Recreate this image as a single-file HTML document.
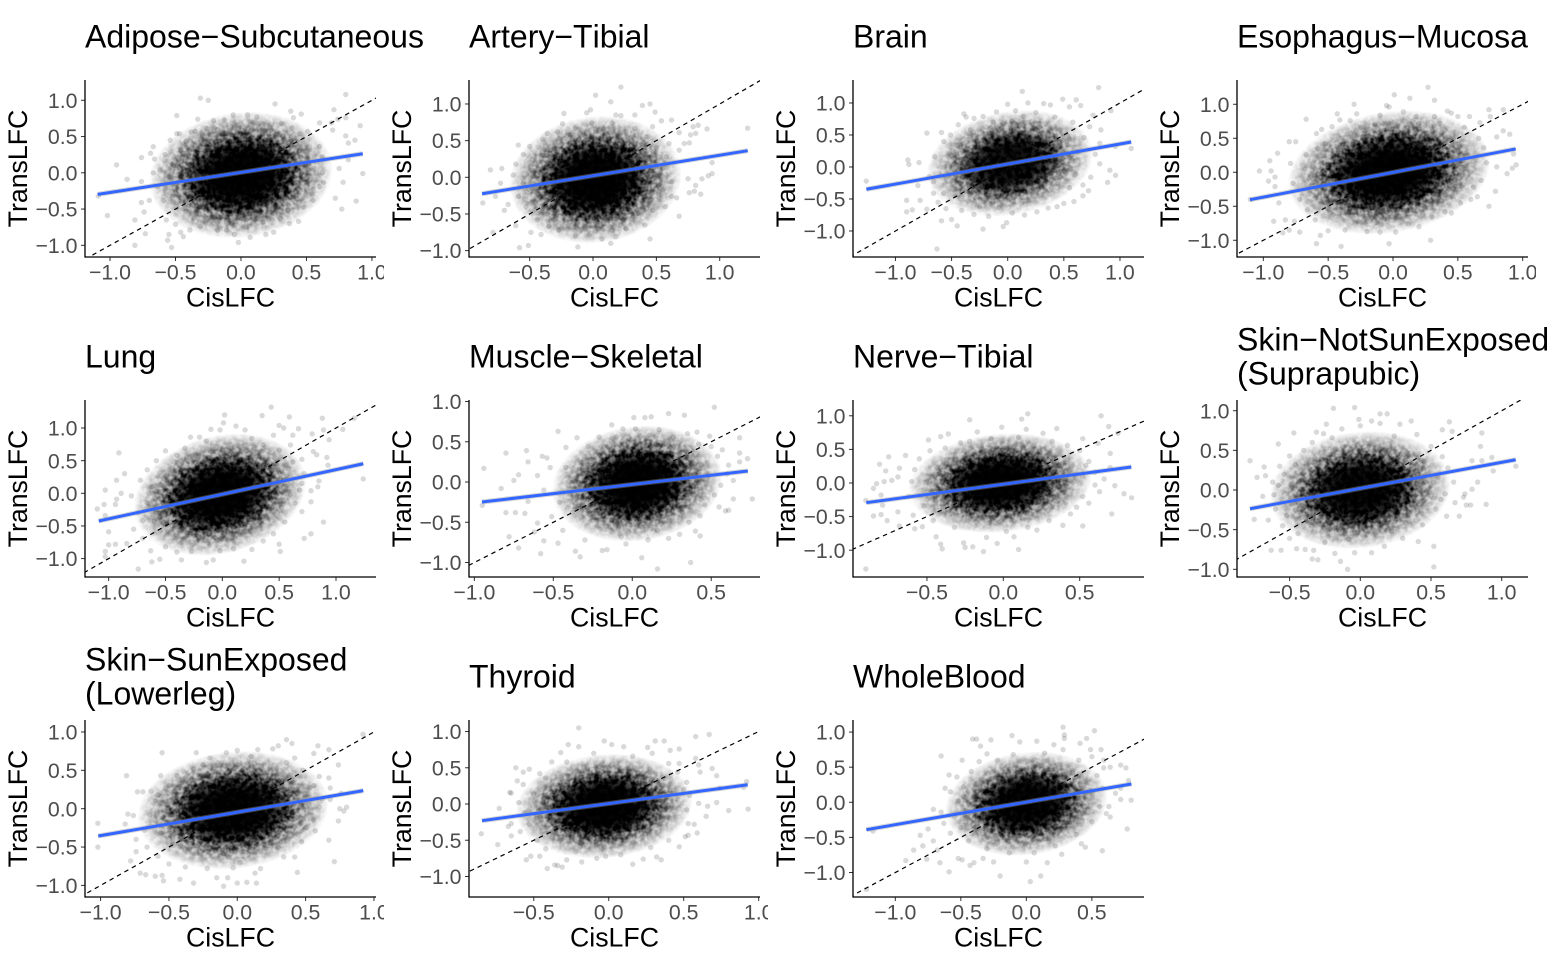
<!DOCTYPE html>
<html lang="en">
<head>
<meta charset="utf-8">
<title>TransLFC versus CisLFC by tissue</title>
<style>
html,body{margin:0;padding:0;background:#fff;}
#figure{display:block;width:1547px;height:960px;font-family:"Liberation Sans",Arial,sans-serif;font-kerning:none;}
</style>
</head>
<body>
<svg id="figure" width="1547" height="960" viewBox="0 0 1547 960">
<defs>
<radialGradient id="density-fill">
<stop offset="0" stop-color="#000" stop-opacity="1"/>
<stop offset=".38" stop-color="#000" stop-opacity=".95"/>
<stop offset=".55" stop-color="#000" stop-opacity=".76"/>
<stop offset=".72" stop-color="#000" stop-opacity=".46"/>
<stop offset=".88" stop-color="#000" stop-opacity=".2"/>
<stop offset="1" stop-color="#000" stop-opacity="0"/>
</radialGradient>
<radialGradient id="density-solid">
<stop offset="0" stop-color="#000" stop-opacity="1"/>
<stop offset=".3" stop-color="#000" stop-opacity=".95"/>
<stop offset=".48" stop-color="#000" stop-opacity=".5"/>
<stop offset=".62" stop-color="#000" stop-opacity="0"/>
</radialGradient>
</defs>
</svg>
<script>
const panelTitles = [["Adipose−Subcutaneous"],["Artery−Tibial"],["Brain"],["Esophagus−Mucosa"],["Lung"],["Muscle−Skeletal"],["Nerve−Tibial"],["Skin−NotSunExposed","(Suprapubic)"],["Skin−SunExposed","(Lowerleg)"],["Thyroid"],["WholeBlood"]];
const xLimits = [[-1.191,1.031],[-.979,1.318],[-1.378,1.214],[-1.203,1.041],[-1.208,1.352],[-1.034,.809],[-.984,.921],[-.872,1.186],[-1.114,1.015],[-.932,1.009],[-1.323,.898]];
const yLimits = [[-1.161,1.28],[-1.087,1.327],[-1.406,1.359],[-1.246,1.357],[-1.282,1.429],[-1.18,1.019],[-1.399,1.235],[-1.097,1.135],[-1.151,1.156],[-1.283,1.159],[-1.349,1.172]];
const xTickValues = [[-1,-.5,0,.5,1],[-.5,0,.5,1],[-1,-.5,0,.5,1],[-1,-.5,0,.5,1],[-1,-.5,0,.5,1],[-1,-.5,0,.5],[-.5,0,.5],[-.5,0,.5,1],[-1,-.5,0,.5,1],[-.5,0,.5,1],[-1,-.5,0,.5]];
const yTickValues = [-1,-.5,0,.5,1];
const fitLines = [[-1.094,-.297,.93,.263],[-.876,-.224,1.221,.363],[-1.259,-.348,1.1,.391],[-1.103,-.403,.946,.343],[-1.087,-.424,1.24,.453],[-.952,-.248,.732,.137],[-.897,-.293,.838,.238],[-.78,-.236,1.099,.382],[-1.017,-.356,.922,.235],[-.845,-.23,.927,.266],[-1.221,-.39,.802,.261]];
const densityCenterX = [0,.02,.02,-.03,-.02,.03,-.02,0,-.03,-.03,0];
const densityCenterY = [-.03,-.03,.06,0,-.02,-.02,0,0,-.02,-.03,-.02];
const densityRadiusX = [.7,.68,.74,.78,.76,.54,.6,.64,.7,.59,.62];
const densityRadiusY = [.87,.87,.82,.9,.92,.72,.74,.74,.77,.72,.74];
const densityShear = [.12,.1,.2,.2,.25,.15,.15,.12,.12,.12,.15];
const densityStrength = [1,1,.88,1,1,1,1,.95,.98,1,.96];

const pointsAdipose = [[-.31,1.03],[-.25,1],[.26,.95],[.8,1.08],[-.49,.79],[-.33,.74],[.38,.85],[.46,.81],[.71,.87],[.8,.76],[.91,.65],[.74,.74],[.69,.69],[.7,.59],[-.95,.11],[-.87,-.09],[-1.09,-.32],[-1.02,-.59],[-.81,-.65],[-.81,-1],[-.73,-.84],[-.74,-.54],[-.76,-.41],[-.76,.21],[-.69,.27],[-.67,.36],[-.66,.19],[-.67,0],[-.76,-.12],[-.7,-.38],[-.56,-.93],[-.53,-1.03],[-.44,-.88],[-.46,-.82],[-.39,-.79],[-.02,-.96],[-.05,-.85],[.19,-.85],[.25,-.82],[.07,-.89],[.77,-.5],[.88,-.39],[.93,-.01],[.78,-.13],[.72,-.35],[.75,.06],[.82,.41],[.87,.45],[.8,.51],[.82,.18],[.63,-.13],[.62,0],[.62,.22],[.6,.36],[.6,.69],[.51,.57],[.4,.76],[.39,.62],[.31,.68],[.12,.77],[.05,.8],[-.06,.8],[-.21,.72],[-.49,.54],[-.47,.54],[-.38,.56],[-.35,.57],[-.54,.45],[-.58,.25],[-.62,.04],[-.64,-.19],[-.59,-.38],[-.57,-.65],[-.55,-.85],[-.5,-.71],[-.31,-.74],[-.18,-.79],[-.11,-.79],[.04,-.75],[.17,-.68],[.3,-.63],[.37,-.7],[.44,-.67],[.48,-.47],[.55,-.38],[.54,-.29],[.6,-.19],[.45,.54],[.32,.5],[-.26,.61],[-.13,.73],[.09,.7],[.22,.63],[-.52,.12],[-.55,-.06],[-.5,-.28],[-.46,.31],[-.42,.43],[-.44,-.5],[-.36,-.62],[.47,.3],[.52,.12],[.5,-.12],[.43,-.36],[.36,-.52],[.16,.59],[-.18,.6],[-.03,.66],[-.27,-.66],[-.07,-.7],[.12,-.64]];
const pointsArtery = [[.22,1.23],[.02,1.12],[.14,1.03],[.45,1],[.39,.98],[.49,.89],[-.05,.88],[-.02,.92],[-.23,.87],[.18,.85],[.22,.84],[.33,.85],[1.22,.67],[.9,.66],[.83,.71],[.79,.69],[.81,.6],[.77,.58],[.76,.47],[.94,.2],[.94,.05],[.91,.02],[.86,-.02],[.81,-.11],[.85,-.23],[.76,-.21],[.8,-.19],[.75,-.02],[.68,-.53],[.57,-.4],[.66,-.28],[.62,-.26],[.41,-.65],[.45,-.84],[.14,-.9],[.18,-.81],[.07,-.84],[-.12,-.95],[-.14,-.8],[-.03,-.79],[-.51,-.93],[-.58,-.96],[-.79,-.75],[-.49,-.75],[-.41,-.78],[-.61,-.66],[-.7,-.45],[-.87,-.35],[-.77,-.26],[-.67,-.37],[-.81,.1],[-.72,.12],[-.73,-.08],[-.63,.03],[-.61,.18],[-.55,.31],[-.59,.44],[-.5,.42],[-.4,.52],[-.36,.6],[-.28,.62],[-.24,.73],[-.14,.67],[-.01,.74],[.15,.74],[.33,.67],[.47,.69],[.62,.78],[.54,.77],[.68,.61],[.6,.46],[.72,.46],[.68,.37],[.62,-.06],[.55,-.17],[.47,-.45],[.36,-.49],[.26,-.7],[.15,-.72],[-.06,-.67],[-.27,-.72],[-.35,-.67],[-.44,-.58],[-.53,-.4],[-.59,-.26],[-.55,-.08],[-.48,.24],[-.46,.09],[-.51,-.16],[-.42,-.46],[-.31,-.58],[.55,.12],[.58,.28],[.5,.4],[.42,.55],[.26,.62],[.08,.66],[-.18,.58],[-.38,.38],[.52,-.1],[.45,-.32],[.24,-.58],[.02,-.63]];
const pointsBrain = [[-1.26,-.22],[-.89,.11],[-.88,.04],[-.79,.07],[-.72,.53],[-.9,-.52],[-.9,-.7],[-.85,-.67],[-.78,-.52],[-.8,-.29],[-.72,-.66],[-.63,-1.28],[-.59,-.84],[-.5,-.82],[-.45,-.92],[-.22,-.97],[-.04,-.93],[-.01,-.87],[.13,1.18],[0,.98],[.18,1],[.81,1.24],[.49,1.06],[.61,1.05],[.92,.88],[.65,.96],[.55,.94],[.38,.97],[.32,.99],[.76,.81],[1.1,.29],[.96,.32],[.89,-.24],[.96,-.13],[.91,-.05],[.72,-.37],[.67,-.45],[.59,-.54],[.5,-.57],[.44,-.62],[.26,-.7],[.04,-.72],[-.59,.54],[-.51,.5],[-.44,.66],[-.39,.83],[-.37,.78],[-.3,.76],[-.22,.79],[-.1,.86],[.07,.88],[.83,.58],[.73,.63],[.82,.37],[-.65,.16],[-.57,.4],[-.66,-.23],[-.57,-.41],[-.66,-.41],[-.7,-.15],[-.62,-.55],[-.55,-.65],[-.41,-.68],[-.3,-.74],[-.17,-.77],[.15,-.75],[.36,-.64],[.14,.79],[.25,.85],[.42,.78],[.58,.7],[.68,.46],[.78,.2],[.82,.05],[.74,-.16],[.67,-.28],[-.5,.18],[-.45,.34],[-.33,.58],[-.52,-.12],[-.46,-.34],[.55,.44],[.62,.24],[.6,-.12],[.55,-.32],[-.13,.7],[.04,.72],[.28,.68],[-.25,-.62],[-.08,-.63]];
const pointsEsophagus = [[.27,1.25],[.01,1.14],[.13,1.09],[.32,1.06],[-.05,.98],[-.03,.96],[-.3,1],[-.67,.78],[-.43,.86],[-.41,.77],[-.28,.86],[-.33,.76],[-.1,.84],[.08,.89],[.18,.82],[.32,.82],[.42,.9],[.45,.87],[.5,.82],[.74,.92],[.85,.92],[.75,.82],[.59,.82],[.67,.73],[.85,.61],[.9,.56],[.8,.52],[.93,.27],[.95,.11],[.92,.06],[.88,-.02],[.8,.08],[.79,-.28],[.74,-.5],[.65,-.36],[.6,-.4],[.45,-.6],[.4,-.58],[.3,-.66],[.29,-1],[.2,-.8],[.02,-.88],[-.03,-1.05],[-.1,-.88],[-.2,-.87],[-.4,-1.09],[-.59,-1.05],[-.56,-.93],[-.5,-.86],[-.37,-.85],[-.72,-.88],[-.85,-.89],[-.8,-.85],[-.92,-.72],[-.83,-.7],[-.76,-.72],[-.88,-.45],[-.96,-.13],[-1.03,.02],[-.94,.02],[-.95,.17],[-.89,.28],[-.91,-.07],[-.8,.45],[-.75,.45],[-.79,.13],[-.77,-.16],[-1.1,-.4],[-.91,-.21],[-.67,.26],[-.59,.57],[-.55,.63],[-.47,.67],[-.72,-.4],[-.66,-.55],[-.6,-.7],[-.68,.05],[-.62,-.1],[-.58,.35],[-.52,.42],[.66,.5],[.7,.36],[.72,.14],[.68,-.12],[.62,-.22],[.55,.66],[.36,.72],[.2,.72],[-.14,.7],[-.25,.66],[.12,-.76],[-.13,-.74],[-.27,-.72],[-.46,-.62],[.52,-.45]];
const pointsLung = [[1.24,.22],[.43,1.32],[.02,1.2],[.01,1.08],[.35,1.19],[.59,1.17],[.88,1.15],[1.16,1.15],[.5,1.04],[.54,1],[.67,.99],[.89,.97],[1.06,.98],[.79,.91],[.94,.82],[.83,.59],[.92,.55],[.93,.43],[.85,.19],[.84,.1],[.78,.04],[.78,-.13],[.89,-.44],[.78,-.62],[.72,-.69],[.51,-.89],[.5,-.78],[.45,-.62],[.55,-.44],[.7,-.28],[.19,-1.04],[-.14,-1.06],[-.08,-1.02],[-.36,-1.02],[-.74,-1.16],[-.62,-1.05],[-.55,-1.01],[-1.03,-.97],[-1.03,-.89],[-.94,-.78],[-1,-.79],[-1,-.59],[-1.1,-.24],[-1.04,-.17],[-1.03,-.34],[-.94,-.17],[-1.03,.05],[-.91,.62],[-.93,.2],[-.86,.3],[-.89,0],[-.93,-.09],[-.8,-.04],[-.72,.2],[-.66,.36],[-.5,.65],[-.33,.69],[-.28,.86],[-.2,.86],[-.1,.98],[-.02,.97],[.12,1.03],[.2,.97],[.26,.84],[.45,.89],[.62,.89],[.6,.74],[.8,.64],[.62,.48],[.7,.15],[-.84,-.77],[-.78,-.55],[-.7,-.69],[-.74,-.3],[-.63,-.88],[-.5,-.82],[-.4,-.9],[-.27,-.89],[-.02,-.88],[.1,-.85],[.26,-.86],[.36,-.73],[.64,-.15],[.68,.05],[.72,.3],[.7,.52],[.5,.66],[.36,.74],[-.14,.8],[-.4,.58],[-.58,.5],[-.62,.1],[-.66,-.15],[-.6,-.42],[-.7,-.42],[.54,.2],[.58,.38],[.6,-.02],[.52,-.22]];
const pointsMuscle = [[.52,.93],[.23,.85],[.33,.83],[.01,.8],[.08,.8],[.12,.81],[-.13,.71],[-.06,.66],[.02,.66],[.17,.65],[-.47,.63],[-.94,.17],[-.8,.36],[-.67,.39],[-.83,-.08],[-.95,-.29],[-.8,-.38],[-.78,-.68],[-.72,-.82],[-.58,-.89],[-.33,-.93],[-.36,-.86],[-.47,-.76],[-.56,-.73],[.16,-1.08],[.06,-.94],[.37,-1],[.43,-.67],[.4,-.61],[.3,-.65],[.36,-.5],[.43,-.42],[.59,-.36],[.61,-.35],[.55,-.31],[.64,-.21],[.76,-.21],[.68,.36],[.73,.29],[.68,.55],[.68,.25],[.61,.21],[.49,.57],[.41,.62],[.35,.6],[-.16,-.84],[-.19,-.85],[-.04,-.77],[.1,-.72],[.23,-.7],[-.21,.56],[-.35,.55],[-.42,.43],[-.54,.3],[-.57,.32],[-.66,.25],[-.72,.09],[-.75,.02],[-.66,-.24],[-.74,-.38],[-.68,-.39],[-.6,-.51],[-.51,-.43],[-.6,.08],[-.56,-.1],[-.52,.18],[-.46,-.25],[-.62,-.62],[-.44,-.6],[-.3,-.72],[-.07,-.68],[.16,-.6],[.32,-.38],[.46,-.28],[.52,-.16],[.56,-.04],[.6,.1],[.54,.32],[.5,.44],[.42,.47],[.26,.56],[.11,.58],[-.1,.56],[-.28,.44],[.48,.08],[.44,.22],[-.42,.18],[-.38,-.38],[.64,.02],[.57,.4]];
const pointsNerve = [[-.9,-1.28],[-.9,-.26],[-.85,-.49],[-.8,-.47],[-.76,-.56],[-.79,-.33],[-.8,-.18],[-.85,-.08],[-.83,-.01],[-.78,.02],[-.77,.18],[-.81,.28],[-.75,.39],[-.64,.41],[-.68,.22],[-.69,.09],[-.73,.04],[-.49,.64],[-.41,.69],[-.36,.73],[-.28,.6],[-.22,.94],[-.17,.76],[-.01,.83],[.12,.95],[.16,1.03],[.15,.8],[.64,1],[.69,.84],[.75,.74],[.35,.81],[.26,.74],[.52,.66],[.62,.59],[.84,-.22],[.79,-.16],[.73,-.04],[.71,-.46],[.52,-.64],[.39,-.63],[.22,-.7],[.1,-.99],[.07,-.8],[-.04,-.9],[-.13,-1.02],[-.2,-.95],[-.25,-.96],[-.26,-.89],[-.4,-.98],[-.41,-.91],[-.44,-.8],[-.58,-.68],[-.53,-.65],[-.68,-.64],[-.69,-.43],[-.59,-.48],[-.11,-.81],[.63,-.13],[.6,-.03],[.7,.23],[.7,.44],[-.62,-.2],[-.6,.02],[-.58,.2],[-.55,.36],[-.48,.48],[-.38,.52],[-.52,-.34],[-.46,-.56],[-.32,-.66],[.02,-.72],[.16,-.66],[.3,-.56],[.44,-.46],[.56,-.3],[.6,.16],[.56,.32],[.5,.48],[.42,.56],[.32,.62],[.1,.68],[-.08,.66],[-.22,.62],[.66,.06],[.52,-.2],[.52,.1],[.54,.26],[.48,-.36]];
const pointsSkinNotSun = [[-.78,.37],[-.68,.29],[-.73,.16],[-.67,.18],[-.75,-.37],[-.69,-.08],[-.61,-.06],[-.63,-.76],[-.56,-.76],[-.65,-.38],[-.47,.72],[-.58,.58],[-.5,.43],[-.57,.3],[-.19,1.03],[-.04,1.04],[-.01,.89],[-.24,.83],[-.13,.77],[-.26,.71],[-.31,.73],[.14,.96],[.19,.96],[.08,.87],[0,.81],[.14,.84],[.36,.87],[.28,.83],[.63,.86],[.58,.76],[.65,.74],[.86,.72],[.85,.55],[.93,.41],[.79,.37],[.86,.37],[1.1,.3],[.94,.24],[.83,.1],[.79,.01],[.74,-.05],[.73,-.09],[.89,-.18],[.75,-.19],[.78,-.19],[.67,-.16],[.7,-.33],[.61,-.33],[.53,-.24],[.52,-.71],[.52,-.97],[.41,-.65],[.3,-.61],[.17,-.71],[.08,-.79],[-.04,-.79],[-.09,-1],[-.14,-.9],[-.18,-.8],[-.3,-.88],[-.34,-.87],[-.33,-.76],[-.45,-.74],[-.39,-.75],[-.5,-.61],[-.55,-.45],[-.6,-.24],[-.58,.06],[-.62,.1],[-.54,.2],[-.46,.32],[-.4,.5],[-.34,.6],[-.2,.66],[.4,.7],[.5,.55],[.58,.42],[.62,.28],[.66,.1],[.6,-.05],[.44,-.44],[.22,-.52],[-.08,-.62],[-.25,-.66],[-.44,-.55],[-.52,-.32],[.24,.68],[.45,.36],[.55,.16],[.57,-.12]];
const pointsSkinSun = [[-1.02,-.19],[-1.02,-.5],[-.81,.43],[-.55,.73],[-.56,.43],[-.3,.73],[-.44,.43],[-.73,.22],[-.69,.22],[-.63,.23],[-.8,-.07],[-.76,-.09],[-.82,-.2],[-.78,-.68],[-.74,-.4],[-.74,-.56],[-.71,-.84],[-.67,-.86],[-.6,-.88],[-.55,-.87],[-.54,-.94],[-.42,-.92],[-.32,-.97],[-.15,-.9],[-.1,-1.01],[-.07,-.9],[0,-.97],[.07,-.96],[.14,-.97],[.13,-.84],[.44,-.83],[.42,-.63],[.71,-.69],[.67,-.41],[.57,-.29],[.74,-.16],[.78,-.03],[.8,.02],[.75,0],[.76,.2],[.68,.12],[.68,.27],[.92,.97],[.36,.9],[.4,.85],[.26,.78],[.3,.82],[.15,.77],[.56,.72],[.59,.82],[.67,.77],[.74,.57],[.42,.66],[0,.76],[-.08,.73],[-.2,.66],[-.32,.52],[-.25,.57],[.6,.42],[.67,.4],[.53,.27],[.62,.13],[.56,-.15],[.47,-.43],[.34,-.63],[.17,-.78],[-.68,-.28],[-.64,-.08],[-.6,.1],[-.66,-.5],[-.58,-.62],[-.5,-.72],[-.38,-.76],[-.22,-.78],[-.03,-.77],[-.56,-.32],[-.58,.18],[-.5,.3],[-.38,.4],[.48,.5],[.36,.6],[.56,.3],[.6,.02],[.5,-.25],[.3,-.5],[.02,-.7],[.1,.68],[-.14,.6]];
const pointsThyroid = [[-.2,1.05],[-.03,.87],[.02,.82],[-.27,.82],[.31,.87],[.37,.87],[.58,.93],[.67,.96],[-.32,.71],[.47,.76],[.41,.74],[.26,.78],[-.62,.5],[-.57,.44],[-.53,.48],[-.61,.32],[-.57,.27],[-.66,.16],[-.65,.15],[-.73,-.06],[-.85,-.41],[-.74,-.56],[-.65,-.44],[-.67,-.31],[-.65,-.27],[-.59,-.38],[-.55,-.77],[-.52,-.72],[-.46,-.72],[-.41,-.89],[-.36,-.84],[-.31,-.87],[-.34,-.85],[-.28,-.77],[-.18,-.8],[-.08,-.75],[-.02,-.72],[.16,-.83],[.23,-.76],[.32,-.73],[.35,-.77],[.47,-.59],[.51,-.45],[.53,-.43],[.59,-.4],[.57,-.28],[.53,-.27],[.65,-.17],[.93,-.07],[.8,-.09],[.72,.02],[.66,-.03],[.6,.01],[.9,.23],[.92,.31],[.74,.22],[.72,.39],[.69,.49],[.61,.44],[.58,.63],[.47,.56],[.6,.54],[.29,.7],[.1,.79],[-.2,.79],[-.38,.58],[-.46,.42],[-.6,.02],[-.56,-.12],[-.5,.14],[-.48,-.5],[-.42,-.62],[-.22,-.66],[.08,-.7],[.28,-.6],[.4,-.5],[.52,-.08],[.54,.12],[.52,.3],[.4,.56],[.16,.66],[-.1,.7],[-.28,.58],[-.42,.36],[.46,.44],[.5,.2],[-.53,-.28]];
const pointsWholeBlood = [[-1.22,-1.24],[-1.17,-.41],[-.92,-.83],[-.86,-.68],[-.59,-.99],[-.2,-1.05],[.03,-1.13],[.11,-1.05],[-.66,-.86],[-.43,-.9],[-.4,-.86],[-.25,-.85],[-.79,-.62],[-.76,-.81],[-.68,-.68],[-.71,-.55],[-.81,-.47],[-.75,-.38],[-.58,-.44],[-.52,-.8],[-.49,-.82],[-.33,-.8],[0,-.85],[.16,-.86],[.27,-.74],[.45,-.64],[.58,-.69],[.42,-.59],[.77,-.38],[.64,-.21],[.61,-.16],[.8,.03],[.72,.04],[.78,.31],[.76,.49],[.72,.53],[.64,.5],[.59,.49],[.52,1.02],[.28,1.07],[.29,.96],[.29,.91],[.46,.91],[.41,.84],[.21,.82],[.08,.87],[-.05,.86],[-.11,.95],[-.27,.89],[-.41,.9],[-.38,.9],[-.35,.8],[-.3,.69],[-.36,.58],[-.49,.6],[-.65,.66],[-.59,.39],[-.53,.36],[-.62,.2],[-.58,.15],[-.71,-.1],[-.65,-.14],[-.63,-.3],[.49,.75],[.57,.75],[.59,.6],[.5,.65],[.28,.75],[.72,.2],[.68,.13],[.63,-.06],[-.55,-.2],[-.52,.02],[-.48,.22],[-.42,.44],[-.5,-.36],[-.44,-.55],[-.3,-.66],[-.13,-.72],[.06,-.72],[.22,-.62],[.38,-.46],[.5,-.28],[.56,-.06],[.58,.2],[.54,.38],[.4,.6],[.14,.7],[-.1,.68],[-.22,.6]];
const pointSets = [pointsAdipose,pointsArtery,pointsBrain,pointsEsophagus,pointsLung,pointsMuscle,pointsNerve,pointsSkinNotSun,pointsSkinSun,pointsThyroid,pointsWholeBlood];

const root = document.getElementById('figure');
const svgNS = root.namespaceURI;
const defs = root.querySelector('defs');
const plotLeft = 85, plotWidth = 291, plotHeight = 177, columnWidth = 384;
const rowTops = [80, 400, 720];

function make(tag, attrs, parent, text) {
  const el = document.createElementNS(svgNS, tag);
  for (const k in attrs) el.setAttribute(k, attrs[k]);
  if (text !== undefined) el.textContent = text;
  parent.appendChild(el);
  return el;
}
function linearScale(domain, r0, r1) {
  return v => r0 + (v - domain[0]) / (domain[1] - domain[0]) * (r1 - r0);
}
function tickText(v) {
  return (v < 0 ? '−' : '') + Math.abs(v).toFixed(1);
}

panelTitles.forEach((titleLines, i) => {
  const col = i % 4, row = Math.floor(i / 4);
  const left = plotLeft + col * columnWidth, right = left + plotWidth;
  const top = rowTops[row], bottom = top + plotHeight;
  const sx = linearScale(xLimits[i], left, right);
  const sy = linearScale(yLimits[i], bottom, top);

  const panel = make('g', {}, root);
  
  

  const plotClip = make('clipPath', {id: 'plot-clip-' + i}, defs);
  make('rect', {x: left, y: top, width: plotWidth, height: plotHeight}, plotClip);
  const cellClip = make('clipPath', {id: 'cell-clip-' + i}, defs);
  make('rect', {x: col * columnWidth, y: top, width: columnWidth, height: plotHeight + 60}, cellClip);

  // Overplotting texture for the density layer (not data marks).
  const grain = make('filter', {id: 'grain-' + i, filterUnits: 'userSpaceOnUse', x: left, y: top, width: plotWidth, height: plotHeight, 'color-interpolation-filters': 'sRGB'}, defs);
  make('feTurbulence', {type: 'fractalNoise', baseFrequency: .19, numOctaves: 2, seed: i + 3, result: 'noise'}, grain);
  make('feColorMatrix', {in: 'noise', type: 'matrix', values: '0 0 0 0 0 0 0 0 0 0 0 0 0 0 0 2 0 0 0 -.5', result: 'mask'}, grain);
  make('feComposite', {in: 'SourceGraphic', in2: 'mask', operator: 'arithmetic', k1: 1, k2: .5, k3: 0, k4: 0}, grain);

  const marks = make('g', {'clip-path': 'url(#plot-clip-' + i + ')'}, panel);
  
  

  const pxPerX = plotWidth / (xLimits[i][1] - xLimits[i][0]);
  const pxPerY = plotHeight / (yLimits[i][1] - yLimits[i][0]);
  const cx = sx(densityCenterX[i]), cy = sy(densityCenterY[i]);
  const placement = 'translate(' + cx + ' ' + cy + ') matrix(1 ' + (-densityShear[i] * pxPerY / pxPerX) + ' 0 1 0 0)';
  const grainLayer = make('g', {filter: 'url(#grain-' + i + ')'}, marks);
  const density = make('ellipse', {
    cx: 0, cy: 0,
    rx: densityRadiusX[i] * pxPerX,
    ry: densityRadiusY[i] * pxPerY,
    fill: 'url(#density-fill)',
    opacity: densityStrength[i],
    transform: placement
  }, grainLayer);
  
  
  const core = make('ellipse', {
    cx: 0, cy: 0,
    rx: densityRadiusX[i] * pxPerX,
    ry: densityRadiusY[i] * pxPerY,
    fill: 'url(#density-solid)',
    opacity: densityStrength[i],
    transform: placement
  }, marks);
  
  

  pointSets[i].forEach(p => {
    const dot = make('circle', {cx: sx(p[0]), cy: sy(p[1]), r: 2.7, fill: '#000', 'fill-opacity': .15}, marks);
    
    
  });

  const lo = Math.min(xLimits[i][0], yLimits[i][0]), hi = Math.max(xLimits[i][1], yLimits[i][1]);
  const identity = make('line', {x1: sx(lo), y1: sy(lo), x2: sx(hi), y2: sy(hi), stroke: '#000', 'stroke-width': 1.2, 'stroke-dasharray': '4.5 4'}, marks);
  
  

  const f = fitLines[i];
  const ribbon = make('line', {x1: sx(f[0]), y1: sy(f[1]), x2: sx(f[2]), y2: sy(f[3]), stroke: '#999', 'stroke-opacity': .4, 'stroke-width': 5}, marks);
  
  
  const fit = make('line', {x1: sx(f[0]), y1: sy(f[1]), x2: sx(f[2]), y2: sy(f[3]), stroke: '#3366FF', 'stroke-width': 3}, marks);
  
  

  yTickValues.forEach(v => {
    const y = sy(v);
    const tick = make('line', {x1: left - 4, x2: left, y1: y, y2: y, stroke: '#333', 'stroke-width': 1}, panel);
    
    
    const label = make('text', {x: left - 7.5, y: y + 7.6, 'text-anchor': 'end', 'font-size': 21.3, fill: '#4D4D4D'}, panel, tickText(v));
    
    
  });

  const xLabels = make('g', {'clip-path': 'url(#cell-clip-' + i + ')'}, panel);
  
  
  xTickValues[i].forEach(v => {
    const x = sx(v);
    const tick = make('line', {x1: x, x2: x, y1: bottom, y2: bottom + 4, stroke: '#333', 'stroke-width': 1}, xLabels);
    
    
    const label = make('text', {x: x, y: bottom + 22.3, 'text-anchor': 'middle', 'font-size': 21.3, fill: '#4D4D4D'}, xLabels, tickText(v));
    
    
  });

  const yAxis = make('line', {x1: left, x2: left, y1: top, y2: bottom + .6, stroke: '#000', 'stroke-width': 1.3}, panel);
  
  
  const xAxis = make('line', {x1: left, x2: right, y1: bottom, y2: bottom, stroke: '#000', 'stroke-width': 1.3}, panel);
  
  

  const xTitle = make('text', {x: (left + right) / 2, y: bottom + 49.7, 'text-anchor': 'middle', 'font-size': 26.7, fill: '#000'}, panel, 'CisLFC');
  
  
  const yX = col * columnWidth + 27, yY = (top + bottom) / 2;
  const yTitle = make('text', {x: yX, y: yY, transform: 'rotate(-90 ' + yX + ' ' + yY + ')', 'text-anchor': 'middle', 'font-size': 26.7, fill: '#000', style: 'font-kerning:normal'}, panel, 'TransLFC');
  
  

  const baselines = titleLines.length === 2 ? [top - 49.7, top - 15.5] : [top - 32.3];
  titleLines.forEach((line, n) => {
    const title = make('text', {x: left, y: baselines[n], 'font-size': 32, fill: '#000'}, panel, line);
    
    
  });
});
</script>
</body>
</html>
